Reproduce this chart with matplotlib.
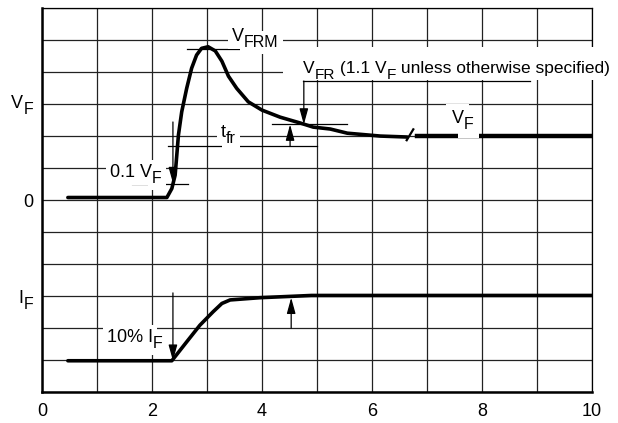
import numpy as np
import matplotlib
matplotlib.use("Agg")
import matplotlib.pyplot as plt
from matplotlib.patches import Rectangle
from matplotlib.font_manager import FontProperties

plt.rcParams['font.family'] = ['Liberation Sans', 'DejaVu Sans']
FS = 13
FS_SUB = 11.5
SUB_DROP = 6  # pixels

# forward recovery waveform
vf_x = [0.47, 2.27, 2.36, 2.42, 2.45, 2.48, 2.54, 2.63, 2.72, 2.81, 2.9, 3.02, 3.15,
        3.27, 3.39, 3.54, 3.75, 4.0, 4.33, 4.69, 4.93, 5.24, 5.55, 6.15, 6.64]
vf_y = [6.08, 6.08, 6.36, 6.78, 7.4, 8.03, 8.76, 9.49, 10.12, 10.53, 10.74, 10.79, 10.66,
        10.34, 9.87, 9.49, 9.07, 8.81, 8.59, 8.41, 8.28, 8.22, 8.09, 8.0, 7.97]
vf_flat_x = [6.82, 10.0]
vf_flat_y = [8.0, 8.0]
break_x = [6.63, 6.75]
break_y = [7.87, 8.21]

if_x = [0.47, 2.36, 2.63, 2.87, 3.11, 3.27, 3.42, 3.96, 4.9, 10.0]
if_y = [0.98, 0.98, 1.57, 2.09, 2.51, 2.77, 2.88, 2.95, 3.02, 3.02]

x_ticks = [0, 1, 2, 3, 4, 5, 6, 7, 8, 9, 10]
x_labels = ['0', '', '2', '', '4', '', '6', '', '8', '', '10']
y_ticks = list(range(13))

# helper lines (x0, x1, y)
h_lines = [(2.64, 4.0, 10.72), (4.18, 5.55, 8.375), (2.29, 5.0, 7.69),
           (1.64, 2.65, 6.5), (4.75, 8.87, 9.72)]
# arrows (x, y_tail, y_tip)
arrows = [(2.38, 8.44, 6.53), (4.51, 7.69, 8.36), (4.76, 9.72, 8.36),
          (2.38, 3.1, 0.98), (4.53, 2.0, 2.95)]

fig = plt.figure(figsize=(6.18, 4.23), dpi=100)
ax = fig.add_axes([0.068, 0.073, 0.890, 0.908])
ax.set_xlim(0, 10)
ax.set_ylim(0, 12)
ax.set_xticks(x_ticks)
ax.set_xticklabels(x_labels, fontsize=FS)
ax.set_yticks(y_ticks)
ax.set_yticklabels([])
ax.tick_params(length=0)
ax.tick_params(axis='x', pad=8)
ax.grid(True, color='#222222', lw=0.9)
ax.set_axisbelow(True)
for s in ['left', 'bottom']:
    ax.spines[s].set_linewidth(1.8)
for s in ['top', 'right']:
    ax.spines[s].set_linewidth(0.9)

ax.plot(vf_x, vf_y, color='k', lw=2.6, solid_capstyle='round', solid_joinstyle='round', zorder=4)
ax.plot(vf_flat_x, vf_flat_y, color='k', lw=3.2, zorder=4)
ax.plot(break_x, break_y, color='k', lw=1.6, zorder=4)
ax.plot(if_x, if_y, color='k', lw=2.6, solid_capstyle='round', solid_joinstyle='round', zorder=4)

for x0, x1, y in h_lines:
    ax.plot([x0, x1], [y, y], color='k', lw=0.9, zorder=5)
for x, y0, y1 in arrows:
    ax.annotate('', xy=(x, y1), xytext=(x, y0),
                arrowprops=dict(arrowstyle='-|>,head_length=0.8,head_width=0.22',
                                color='k', lw=0.9, shrinkA=0, shrinkB=0,
                                mutation_scale=12), zorder=5)

renderer = fig.canvas.get_renderer()


def advance(s, size):
    fp = FontProperties(family=['Liberation Sans'], size=size)
    w1 = renderer.get_text_width_height_descent('|' + s + '|', fp, ismath=False)[0]
    w0 = renderer.get_text_width_height_descent('||', fp, ismath=False)[0]
    return w1 - w0


def rich(x, y, pieces, ha='left', pad=None, scale=1.0):
    # pieces: (text, is_subscript); y is the baseline of the main text
    sizes = [(FS_SUB if sub else FS) * scale for s, sub in pieces]
    widths = [advance(s, sz) for (s, sub), sz in zip(pieces, sizes)]
    total = sum(widths)
    dx0 = {'left': 0, 'center': -total / 2, 'right': -total}[ha]
    passes = [False]
    if pad is not None:
        passes = [True, False]
    for mask in passes:
        dx = dx0
        for (s, sub), w, sz in zip(pieces, widths, sizes):
            if mask:
                kw = dict(color='none', zorder=5.5,
                          bbox=dict(facecolor='white', edgecolor='none', pad=pad))
            else:
                kw = dict(color='k', zorder=6)
            ax.annotate(s, xy=(x, y), xytext=(dx, -SUB_DROP * scale if sub else 0),
                        textcoords='offset pixels', ha='left', va='baseline',
                        fontsize=sz, annotation_clip=False, **kw)
            dx += w


ax.add_patch(Rectangle((4.38, 9.74), 6.2, 1.04, facecolor='white',
                       edgecolor='none', clip_on=False, zorder=4))
rich(4.75, 9.97, [('V', 0), ('FR', 1), (' (1.1 V', 0), ('F', 1),
                  (' unless otherwise specified)', 0)], scale=0.96)
rich(3.45, 10.97, [('V', 0), ('FRM', 1)], pad=3)
rich(3.25, 7.97, [('t', 0), ('fr', 1)], pad=3)
rich(1.24, 6.72, [('0.1 V', 0), ('F', 1)], pad=3)
rich(7.45, 8.41, [('V', 0), ('F', 1)], pad=4)
rich(1.18, 1.56, [('10% I', 0), ('F', 1)], pad=3)

# y axis labels
rich(-0.164, 8.88, [('V', 0), ('F', 1)], ha='right')
rich(-0.164, 5.78, [('0', 0)], ha='right')
rich(-0.164, 2.78, [('I', 0), ('F', 1)], ha='right')

fig.savefig('out.png', dpi=100)
